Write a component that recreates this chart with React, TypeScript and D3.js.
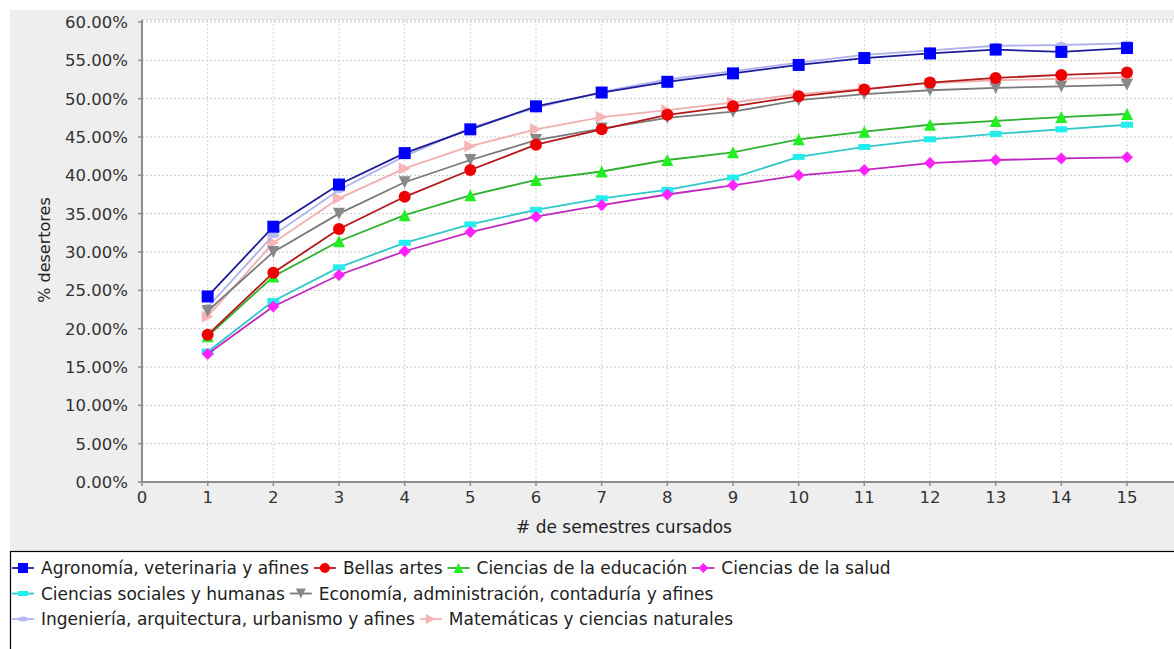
import * as d3 from "d3";

const semesters = [1, 2, 3, 4, 5, 6, 7, 8, 9, 10, 11, 12, 13, 14, 15];

const seriesNames = [
  "Agronomía, veterinaria y afines",
  "Bellas artes",
  "Ciencias de la educación",
  "Ciencias de la salud",
  "Ciencias sociales y humanas",
  "Economía, administración, contaduría y afines",
  "Ingeniería, arquitectura, urbanismo y afines",
  "Matemáticas y ciencias naturales",
];

const agronomia = [24.2, 33.3, 38.8, 42.9, 46.0, 49.0, 50.8, 52.2, 53.3, 54.4, 55.3, 55.9, 56.4, 56.1, 56.6];
const bellasArtes = [19.2, 27.3, 33.0, 37.2, 40.7, 44.0, 46.0, 47.9, 49.0, 50.3, 51.2, 52.1, 52.7, 53.1, 53.4];
const educacion = [19.0, 26.8, 31.4, 34.8, 37.4, 39.4, 40.5, 42.0, 43.0, 44.7, 45.7, 46.6, 47.1, 47.6, 48.0];
const salud = [16.7, 22.9, 27.0, 30.1, 32.6, 34.6, 36.1, 37.5, 38.7, 40.0, 40.7, 41.6, 42.0, 42.2, 42.35];
const sociales = [17.0, 23.6, 28.0, 31.2, 33.6, 35.5, 37.0, 38.1, 39.7, 42.4, 43.7, 44.7, 45.4, 46.0, 46.6];
const economia = [22.3, 30.0, 35.0, 39.1, 42.0, 44.6, 46.1, 47.5, 48.3, 49.8, 50.6, 51.1, 51.4, 51.6, 51.8];
const ingenieria = [22.8, 32.2, 38.1, 42.5, 46.2, 48.8, 50.9, 52.5, 53.6, 54.7, 55.7, 56.3, 56.9, 57.0, 57.2];
const matematicas = [21.6, 31.2, 37.0, 40.9, 43.8, 46.0, 47.6, 48.5, 49.5, 50.6, 51.3, 52.0, 52.4, 52.6, 52.8];

const seriesValues = [agronomia, bellasArtes, educacion, salud, sociales, economia, ingenieria, matematicas];

const yTicks = [0, 5, 10, 15, 20, 25, 30, 35, 40, 45, 50, 55, 60];
const xTicks = [0, 1, 2, 3, 4, 5, 6, 7, 8, 9, 10, 11, 12, 13, 14, 15];

// marker fill / line colour per series
const markerColors = ["#0000ff", "#ee0000", "#22ee22", "#ff22ff", "#22eeee", "#888888", "#b8b8f4", "#f6b4b4"];
const lineColors = ["#1c1c9a", "#b41818", "#30b030", "#c028c0", "#30c8c8", "#7a7a7a", "#b0b0ee", "#f0b0b0"];
const shapes = ["square", "circle", "triUp", "diamond", "hrect", "triDown", "ellipse", "triRight"];

// shape path centred on 0,0
function shapePath(kind: string, s: number) {
  const h = s / 2;
  switch (kind) {
    case "square":
      return `M${-h},${-h}H${h}V${h}H${-h}Z`;
    case "circle":
      return `M${-h},0A${h},${h} 0 1,0 ${h},0A${h},${h} 0 1,0 ${-h},0Z`;
    case "triUp":
      return `M0,${-h}L${h},${h}L${-h},${h}Z`;
    case "triDown":
      return `M0,${h}L${h},${-h}L${-h},${-h}Z`;
    case "triRight":
      return `M${h},0L${-h},${h}L${-h},${-h}Z`;
    case "diamond":
      return `M0,${-h}L${h},0L0,${h}L${-h},0Z`;
    case "hrect":
      return `M${-h},${-h / 2}H${h}V${h / 2}H${-h}Z`;
    case "ellipse":
      return `M${-h},0A${h},${h / 2} 0 1,0 ${h},0A${h},${h / 2} 0 1,0 ${-h},0Z`;
  }
  return "";
}

const W = 1174;
const H = 649;
const plot = { left: 142, top: 20, bottom: 482, right: 1174 };

// legend rows: which series sit on which line
const legendRows = [
  [0, 1, 2, 3],
  [4, 5],
  [6, 7],
];

const FONT = "'DejaVu Sans', sans-serif";

export default function App() {
  const x = d3.scaleLinear().domain([0, 15]).range([plot.left, 1127]);
  const y = d3.scaleLinear().domain([0, 60]).range([plot.bottom, 22]);

  const line = d3
    .line<number>()
    .x((_, i) => x(semesters[i]))
    .y((d) => y(d));

  const legendFont = 17;
  const measure = (t: string) => {
    if (typeof document === "undefined") return t.length * legendFont * 0.55;
    const c = document.createElement("canvas").getContext("2d")!;
    c.font = `${legendFont}px 'DejaVu Sans'`;
    return c.measureText(t).width;
  };

  // first series ends up on top
  const order = seriesValues.map((_, i) => i).reverse();

  return (
    <svg width={W} height={H} style={{ position: "absolute", left: 0, top: 0, fontFamily: FONT }}>
      <rect x={0} y={0} width={W} height={H} fill="#ffffff" />
      <rect x={10} y={10} width={W - 10} height={542} fill="#eeeeee" />
      <rect x={plot.left} y={plot.top} width={plot.right - plot.left} height={plot.bottom - plot.top} fill="#ffffff" />

      {/* grid */}
      {yTicks.map((t) => (
        <line
          key={"gy" + t}
          x1={plot.left}
          x2={plot.right}
          y1={y(t)}
          y2={y(t)}
          stroke="#c8c8c8"
          strokeWidth={1}
          strokeDasharray="2,2"
        />
      ))}
      {xTicks.map((t) => (
        <line
          key={"gx" + t}
          x1={x(t)}
          x2={x(t)}
          y1={plot.top}
          y2={plot.bottom}
          stroke="#d4d4d4"
          strokeWidth={1}
          strokeDasharray="2,2"
        />
      ))}
      <line x1={plot.left} x2={plot.right} y1={plot.top} y2={plot.top} stroke="#c8c8c8" strokeDasharray="2,2" />

      {/* axes */}
      <line x1={plot.left} x2={plot.left} y1={plot.top} y2={plot.bottom + 1} stroke="#8c8c8c" strokeWidth={2} />
      <line x1={plot.left} x2={plot.right} y1={plot.bottom} y2={plot.bottom} stroke="#8c8c8c" strokeWidth={2} />

      {yTicks.map((t) => (
        <g key={"ty" + t}>
          <line x1={plot.left - 4} x2={plot.left} y1={y(t)} y2={y(t)} stroke="#8c8c8c" strokeWidth={1.5} />
          <text x={plot.left - 14} y={y(t)} dy="0.36em" textAnchor="end" fontSize={16.5} fill="#333333">
            {d3.format(".2f")(t) + "%"}
          </text>
        </g>
      ))}
      {xTicks.map((t) => (
        <g key={"tx" + t}>
          <line x1={x(t)} x2={x(t)} y1={plot.bottom} y2={plot.bottom + 4} stroke="#8c8c8c" strokeWidth={1.5} />
          <text x={x(t)} y={plot.bottom + 15} dy="0.36em" textAnchor="middle" fontSize={16.5} fill="#333333">
            {t}
          </text>
        </g>
      ))}

      <text x={624} y={527} dy="0.36em" textAnchor="middle" fontSize={17} fill="#222222">
        # de semestres cursados
      </text>
      <text
        transform={`translate(44,250) rotate(-90)`}
        dy="0.36em"
        textAnchor="middle"
        fontSize={16}
        fill="#222222"
      >
        % desertores
      </text>

      {/* series */}
      {order.map((si) => (
        <g key={"s" + si}>
          <path d={line(seriesValues[si]) ?? ""} fill="none" stroke={lineColors[si]} strokeWidth={1.8} />
          {seriesValues[si].map((v, i) => (
            <path
              key={i}
              transform={`translate(${x(semesters[i])},${y(v)})`}
              d={shapePath(shapes[si], 12)}
              fill={markerColors[si]}
            />
          ))}
        </g>
      ))}

      {/* legend */}
      <rect x={10.5} y={551.5} width={W + 20} height={200} fill="#ffffff" stroke="#000000" strokeWidth={1.2} />
      {legendRows.map((row, ri) => {
        let cx = 11;
        const cy = 568 + ri * 25.5;
        return row.map((si) => {
          const x0 = cx;
          const tw = measure(seriesNames[si]);
          cx = x0 + 30 + tw + 4;
          return (
            <g key={"l" + si}>
              <line x1={x0 + 1} x2={x0 + 23} y1={cy} y2={cy} stroke={lineColors[si]} strokeWidth={1.8} />
              <path transform={`translate(${x0 + 12},${cy})`} d={shapePath(shapes[si], 10)} fill={markerColors[si]} />
              <text x={x0 + 30} y={cy} dy="0.36em" fontSize={legendFont} fill="#222222">
                {seriesNames[si]}
              </text>
            </g>
          );
        });
      })}
    </svg>
  );
}
